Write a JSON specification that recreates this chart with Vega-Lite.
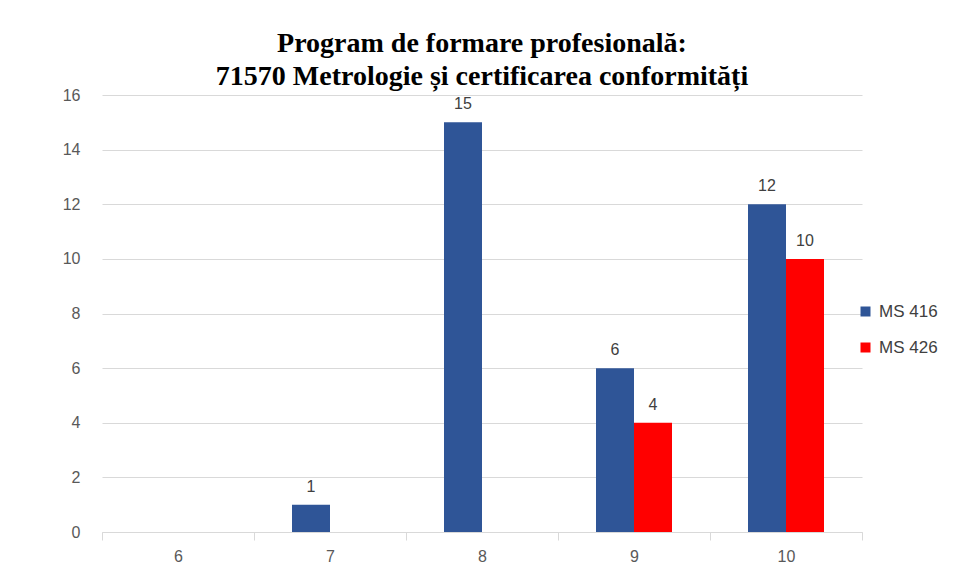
{
  "$schema": "https://vega.github.io/schema/vega-lite/v6.json",
  "width": 760,
  "height": 437,
  "autosize": {"type": "none"},
  "padding": {"left": 102, "top": 95, "right": 93, "bottom": 36},
  "background": "white",
  "title": {
    "text": ["Program  de  formare  profesională:", "71570 Metrologie  și  certificarea  conformități"],
    "font": "Liberation Serif",
    "fontSize": 28,
    "fontWeight": "bold",
    "color": "#000000",
    "lineHeight": 33,
    "offset": -4
  },
  "data": {
    "values": [
      {"clasa": "7", "serie": "MS 416", "valoare": 1},
      {"clasa": "8", "serie": "MS 416", "valoare": 15},
      {"clasa": "9", "serie": "MS 416", "valoare": 6},
      {"clasa": "9", "serie": "MS 426", "valoare": 4},
      {"clasa": "10", "serie": "MS 416", "valoare": 12},
      {"clasa": "10", "serie": "MS 426", "valoare": 10}
    ]
  },
  "encoding": {
    "x": {
      "field": "clasa",
      "type": "nominal",
      "sort": ["6", "7", "8", "9", "10"],
      "scale": {"domain": ["6", "7", "8", "9", "10"], "paddingInner": 0, "paddingOuter": 0},
      "axis": {
        "title": null,
        "labelAngle": 0,
        "labelFont": "Liberation Sans",
        "labelFontSize": 16,
        "labelColor": "#595959",
        "labelPadding": 8,
        "domainColor": "#d9d9d9",
        "tickColor": "#d9d9d9",
        "tickSize": 8,
        "tickBand": "extent",
        "grid": false
      }
    },
    "xOffset": {
      "field": "serie",
      "type": "nominal",
      "scale": {"domain": ["MS 416", "MS 426"], "paddingInner": 0, "paddingOuter": 1.18}
    },
    "y": {
      "field": "valoare",
      "type": "quantitative",
      "scale": {"domain": [0, 16], "nice": false},
      "axis": {
        "title": null,
        "values": [0, 2, 4, 6, 8, 10, 12, 14, 16],
        "labelFont": "Liberation Sans",
        "labelFontSize": 16,
        "labelColor": "#595959",
        "labelPadding": 22,
        "domain": false,
        "ticks": false,
        "gridColor": "#d9d9d9",
        "gridWidth": 1
      }
    }
  },
  "layer": [
    {
      "mark": {"type": "bar"},
      "encoding": {
        "color": {
          "field": "serie",
          "type": "nominal",
          "scale": {"domain": ["MS 416", "MS 426"], "range": ["#2F5597", "#FF0000"]},
          "legend": {
            "title": null,
            "orient": "none",
            "legendX": 755,
            "legendY": 208,
            "symbolType": "square",
            "symbolSize": 100,
            "symbolStrokeWidth": 0,
            "labelFont": "Liberation Sans",
            "labelFontSize": 17,
            "labelColor": "#404040",
            "rowPadding": 18,
            "labelOffset": 5
          }
        }
      }
    },
    {
      "mark": {"type": "text", "baseline": "bottom", "dy": -10, "font": "Liberation Sans", "fontSize": 16, "color": "#404040"},
      "encoding": {
        "text": {"field": "valoare", "type": "quantitative"}
      }
    }
  ],
  "config": {"view": {"stroke": null}}
}
